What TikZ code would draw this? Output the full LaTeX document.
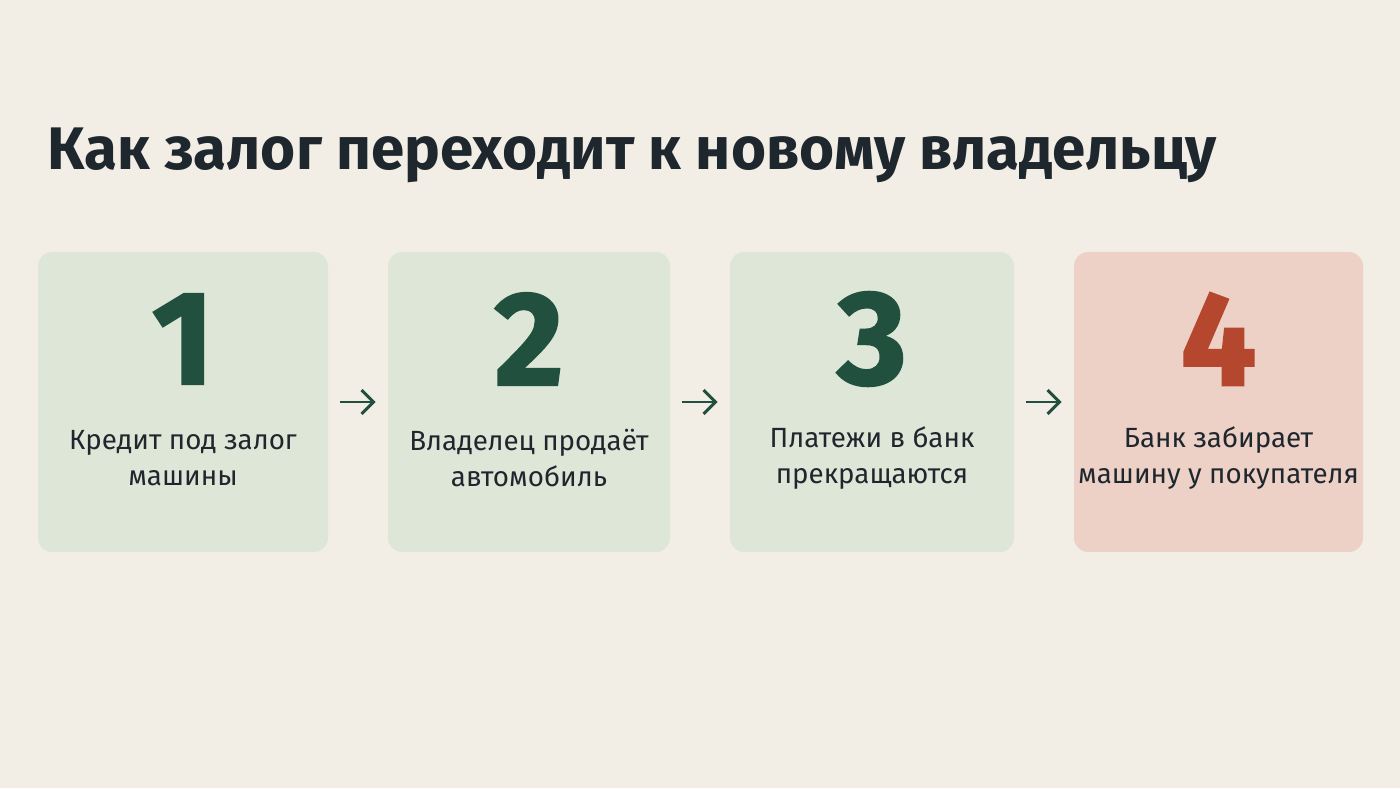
\documentclass[tikz,border=0pt]{standalone}
\usepackage{fontspec}
\setmainfont{Fira Sans}
\newfontfamily\numfont{Fira Sans}[BoldFeatures={FakeBold=1.6}]
\usepackage{tikz}
\usetikzlibrary{arrows.meta}

\definecolor{paper}{HTML}{F2EEE6}
\definecolor{sage}{HTML}{DDE6D7}
\definecolor{blush}{HTML}{EDD0C6}
\definecolor{pine}{HTML}{22503F}
\definecolor{rust}{HTML}{B5472F}
\definecolor{ink}{HTML}{1F272E}

\tikzset{
  stepcard/.style={rounded corners=8pt,minimum height=6cm,inner sep=0pt},
  bignum/.style={font=\numfont\fontsize{76}{78}\selectfont\bfseries},
  caption/.style={font=\fontsize{15.8}{20.5}\selectfont,text=ink,align=center},
  flow/.style={pine,line width=1.7pt,shorten <=0.24cm,shorten >=0.24cm,
    -{Straight Barb[length=0.24cm,width=0.48cm,line width=1.7pt]}}
}

\begin{document}
\begin{tikzpicture}
        \fill[paper] (0,0) rectangle (28,15.76);
        \useasboundingbox (0,0) rectangle (28,15.76);

        \node[anchor=base west,inner sep=0pt,text=ink,font=\fontsize{34.2}{36}\selectfont\bfseries]
          (title) at (0.94,12.36) {Как залог переходит к новому владельцу};

        \node[stepcard,fill=sage,minimum width=5.8cm] (b1) at (3.66,7.72) {};
        \node[stepcard,fill=sage,minimum width=5.64cm] (b2) at (10.58,7.72) {};
        \node[stepcard,fill=sage,minimum width=5.68cm] (b3) at (17.44,7.72) {};
        \node[stepcard,fill=blush,minimum width=5.78cm] (b4) at (24.37,7.72) {};

        \node[bignum,text=pine] (n1) at ([yshift=1.26cm]b1.center) {1};
        \node[bignum,text=pine] (n2) at ([yshift=1.26cm]b2.center) {2};
        \node[bignum,text=pine] (n3) at ([yshift=1.26cm]b3.center) {3};
        \node[bignum,text=rust] (n4) at ([yshift=1.26cm]b4.center) {4};

        \node[caption] (c1) at ([yshift=-1.12cm]b1.center) {Кредит под залог\\машины};
        \node[caption] (c2) at ([yshift=-1.12cm]b2.center) {Владелец продаёт\\автомобиль};
        \node[caption] (c3) at ([yshift=-1.12cm]b3.center) {Платежи в банк\\прекращаются};
        \node[caption] (c4) at ([yshift=-1.12cm]b4.center) {Банк забирает\\машину у покупателя};

        \draw[flow] (b1.east) -- (b2.west);
        \draw[flow] (b2.east) -- (b3.west);
        \draw[flow] (b3.east) -- (b4.west);
      \end{tikzpicture}
\end{document}
